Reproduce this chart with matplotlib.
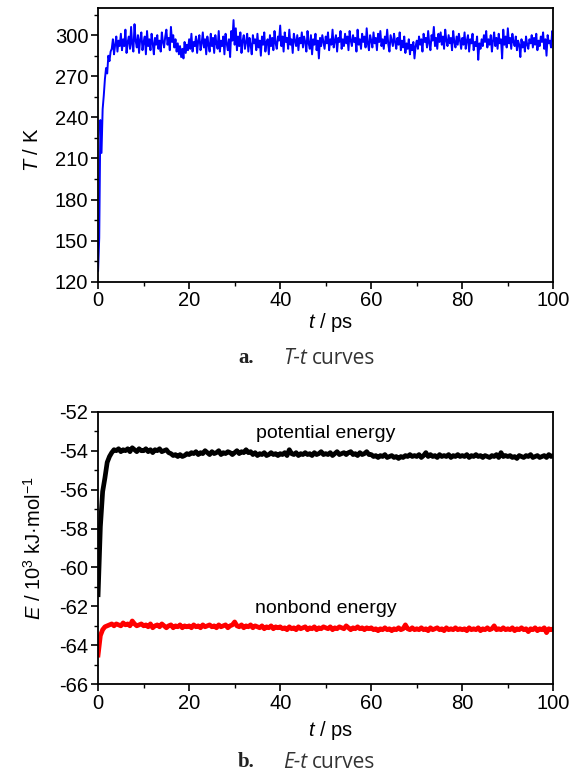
import numpy as np
import matplotlib
matplotlib.use("Agg")
import matplotlib.pyplot as plt
from matplotlib.ticker import MultipleLocator

plt.rcParams["font.family"] = ["Liberation Sans", "DejaVu Sans"]
plt.rcParams["mathtext.fontset"] = "custom"
plt.rcParams["mathtext.rm"] = "Liberation Sans"
plt.rcParams["mathtext.it"] = "Liberation Sans:italic"
plt.rcParams["axes.unicode_minus"] = False

# temperature (K), read every 0.25 ps
temp_step = 0.25
temp_k = [
    128, 152, 238, 214, 246, 256, 268, 276, 272, 285, 281, 288, 290, 297, 286, 293, 299, 288, 296, 292,
    301, 289, 297, 292, 304, 287, 295, 299, 290, 306, 293, 288, 308, 296, 291, 300, 287, 297, 302, 289,
    295, 299, 286, 303, 292, 297, 289, 301, 294, 286, 298, 293, 300, 290, 296, 288, 302, 295, 291, 299,
    304, 293, 298, 289, 306, 295, 300, 291, 297, 288, 294, 286, 292, 284, 290, 283, 295, 287, 293, 289,
    297, 290, 301, 288, 295, 292, 299, 287, 296, 300, 289, 294, 302, 291, 297, 286, 299, 293, 288, 301,
    292, 298, 287, 300, 294, 290, 303, 288, 296, 292, 299, 286, 301, 294, 289, 297, 284, 303, 296, 311,
    293, 305, 289, 299, 292, 302, 287, 296, 300, 290, 295, 301, 288, 298, 293, 286, 300, 294, 297, 289,
    301, 291, 296, 285, 299, 293, 302, 288, 295, 297, 286, 300, 292, 298, 289, 303, 294, 290, 299, 296,
    307, 292, 299, 288, 302, 295, 298, 290, 304, 293, 297, 287, 301, 296, 292, 300, 289, 298, 294, 302,
    291, 299, 295, 288, 303, 294, 290, 300, 286, 297, 293, 301, 289, 296, 283, 298, 292, 300, 295, 290,
    299, 294, 302, 289, 297, 293, 304, 291, 296, 300, 288, 298, 295, 303, 290, 297, 292, 301, 294, 299,
    289, 303, 296, 292, 300, 295, 298, 288, 304, 293, 297, 290, 301, 295, 299, 291, 305, 294, 289, 300,
    296, 291, 302, 294, 298, 289, 301, 295, 303, 292, 297, 290, 299, 294, 304, 293, 288, 300, 296, 292,
    301, 295, 290, 298, 293, 302, 289, 296, 291, 299, 287, 294, 290, 297, 286, 293, 289, 295, 283, 292,
    296, 290, 299, 293, 297, 288, 301, 295, 298, 291, 303, 294, 289, 300, 296, 306, 292, 298, 290, 301,
    295, 302, 293, 299, 290, 304, 296, 292, 300, 294, 298, 289, 303, 295, 291, 299, 293, 301, 296, 290,
    298, 293, 302, 290, 296, 300, 288, 297, 294, 301, 289, 295, 292, 299, 282, 294, 290, 297, 292, 300,
    295, 303, 291, 297, 293, 300, 288, 296, 302, 292, 298, 290, 301, 294, 297, 283, 304, 293, 299, 291,
    305, 294, 298, 290, 301, 295, 292, 299, 289, 296, 293, 284, 297, 291, 295, 288, 299, 293, 290, 297,
    294, 300, 291, 298, 293, 301, 289, 296, 292, 299, 295, 302, 290, 297, 285, 300, 294, 296, 291, 303,
    296,
]

# energies (10^3 kJ/mol), read every 0.5 ps
energy_step = 0.5
potential = [
    -61.4, -57.9, -56.1, -55.4, -54.6, -54.3, -54.1, -53.95, -54.0, -53.9, -54.05, -53.95, -54.0, -53.9, -54.05, -53.85, -53.95, -54.05, -53.9, -54.0,
    -54.0, -53.9, -54.05, -53.95, -54.1, -53.95, -54.0, -53.9, -54.05, -54.0, -53.95, -54.1, -54.15, -54.25, -54.2, -54.3, -54.2, -54.3, -54.25, -54.15,
    -54.2, -54.1, -54.15, -54.05, -54.2, -54.1, -54.15, -54.0, -54.1, -54.2, -54.05, -54.15, -54.1, -54.0, -54.2, -54.1, -54.15, -54.05, -54.1, -54.2,
    -54.1, -54.0, -54.15, -54.05, -54.1, -53.95, -54.1, -54.05, -54.2, -54.1, -54.25, -54.15, -54.2, -54.1, -54.25, -54.2, -54.1, -54.2, -54.15, -54.25,
    -54.15, -54.2, -54.1, -54.25, -53.95, -54.15, -54.2, -54.1, -54.25, -54.15, -54.2, -54.1, -54.2, -54.15, -54.25, -54.1, -54.2, -54.15, -54.05, -54.2,
    -54.15, -54.2, -54.1, -54.25, -54.15, -54.05, -54.2, -54.15, -54.1, -54.2, -54.1, -54.05, -54.2, -54.15, -54.25, -54.1, -54.2, -54.15, -54.05, -54.2,
    -54.2, -54.3, -54.25, -54.35, -54.25, -54.3, -54.2, -54.35, -54.3, -54.25, -54.35, -54.3, -54.4, -54.3, -54.35, -54.25, -54.3, -54.2, -54.3, -54.25,
    -54.3, -54.2, -54.35, -54.25, -54.1, -54.3, -54.2, -54.3, -54.25, -54.35, -54.2, -54.3, -54.25, -54.3, -54.2, -54.35, -54.25, -54.3, -54.2, -54.3,
    -54.25, -54.3, -54.2, -54.35, -54.25, -54.3, -54.2, -54.3, -54.25, -54.35, -54.25, -54.3, -54.35, -54.25, -54.3, -54.2, -54.35, -54.1, -54.3, -54.25,
    -54.3, -54.25, -54.35, -54.3, -54.4, -54.25, -54.3, -54.35, -54.25, -54.3, -54.2, -54.35, -54.3, -54.25, -54.35, -54.3, -54.25, -54.35, -54.2, -54.3,
    -54.25,
]
nonbond = [
    -64.5, -63.5, -63.2, -63.05, -63.0, -62.95, -62.9, -63.0, -62.9, -62.95, -63.0, -62.85, -62.95, -62.9, -63.0, -62.75, -62.9, -63.0, -62.95, -62.9,
    -63.0, -62.95, -63.05, -62.9, -63.1, -63.0, -62.95, -63.05, -62.9, -63.0, -63.1, -63.0, -62.95, -63.1, -63.0, -63.05, -62.95, -63.1, -63.0, -63.05,
    -63.0, -63.1, -62.95, -63.05, -63.0, -63.1, -62.95, -63.05, -63.0, -62.95, -63.05, -63.0, -63.1, -62.95, -63.05, -63.0, -62.95, -63.1, -63.0, -62.95,
    -62.8, -63.0, -63.05, -62.95, -63.1, -63.0, -63.05, -62.95, -63.1, -63.0, -63.05, -63.1, -63.0, -63.15, -63.05, -63.1, -63.0, -63.15, -63.05, -63.1,
    -63.05, -63.15, -63.1, -63.2, -63.05, -63.15, -63.1, -63.2, -63.05, -63.15, -63.1, -63.05, -63.2, -63.1, -63.15, -63.05, -63.2, -63.1, -63.15, -63.05,
    -63.1, -63.15, -63.05, -63.2, -63.1, -63.15, -63.05, -63.1, -63.15, -63.0, -63.1, -63.2, -63.1, -63.15, -63.05, -63.15, -63.1, -63.2, -63.1, -63.15,
    -63.1, -63.2, -63.15, -63.25, -63.15, -63.2, -63.1, -63.2, -63.15, -63.25, -63.15, -63.2, -63.1, -63.2, -63.15, -62.95, -63.15, -63.2, -63.1, -63.2,
    -63.15, -63.2, -63.1, -63.2, -63.15, -63.25, -63.1, -63.2, -63.15, -63.1, -63.2, -63.15, -63.25, -63.1, -63.2, -63.15, -63.2, -63.1, -63.2, -63.15,
    -63.2, -63.15, -63.25, -63.1, -63.2, -63.15, -63.2, -63.1, -63.25, -63.15, -63.2, -63.1, -63.2, -63.15, -63.0, -63.2, -63.15, -63.2, -63.1, -63.2,
    -63.15, -63.2, -63.1, -63.25, -63.15, -63.2, -63.1, -63.2, -63.15, -63.3, -63.15, -63.2, -63.1, -63.25, -63.15, -63.2, -63.1, -63.35, -63.15, -63.2,
    -63.15,
]

t_temp = np.arange(len(temp_k)) * temp_step
t_energy = np.arange(len(potential)) * energy_step

fig = plt.figure(figsize=(5.77, 7.74), dpi=100)
ax1 = fig.add_axes([0.170, 0.636, 0.789, 0.354])
ax2 = fig.add_axes([0.170, 0.116, 0.789, 0.352])

TICK_FS = 14.5


def style_axes(ax):
    for sp in ax.spines.values():
        sp.set_linewidth(1.3)
    ax.tick_params(which="major", direction="out", length=5, width=1.2,
                   labelsize=TICK_FS, pad=2)
    ax.tick_params(which="minor", direction="out", length=3, width=1.0)
    ax.set_xlim(0, 100)
    ax.xaxis.set_major_locator(MultipleLocator(20))
    ax.xaxis.set_minor_locator(MultipleLocator(10))


ax1.plot(t_temp, temp_k, color="#0000ff", lw=1.4)
style_axes(ax1)
ax1.set_ylim(120, 320)
ax1.yaxis.set_major_locator(MultipleLocator(30))
ax1.yaxis.set_minor_locator(MultipleLocator(15))

ax2.plot(t_energy, potential, color="black", lw=3.4)
ax2.plot(t_energy, nonbond, color="#ff0000", lw=3.4)
style_axes(ax2)
ax2.set_ylim(-66, -52)
ax2.yaxis.set_major_locator(MultipleLocator(2))
ax2.yaxis.set_minor_locator(MultipleLocator(1))
ax2.text(50, -53.1, "potential energy", ha="center", va="center", fontsize=14)
ax2.text(50, -62.1, "nonbond energy", ha="center", va="center", fontsize=14)

# axis labels
fig.text(330 / 577, 1 - 322 / 774, "$\\mathit{t}$ / ps", ha="center", va="center", fontsize=TICK_FS)
fig.text(330 / 577, 1 - 730 / 774, "$\\mathit{t}$ / ps", ha="center", va="center", fontsize=TICK_FS)
fig.text(32 / 577, 1 - 150 / 774, "$\\mathit{T}$ / K", ha="center", va="center",
         rotation=90, fontsize=TICK_FS)
fig.text(34 / 577, 1 - 548 / 774, "$\\mathit{E}$ / 10$^{3}$ kJ·mol$^{-1}$", ha="center",
         va="center", rotation=90, fontsize=TICK_FS)

# captions
for y, tag, sym in [(358, "a.", "T-t"), (762, "b.", "E-t")]:
    yf = 1 - y / 774
    fig.text(238 / 577, yf, tag, ha="left", va="center",
             fontsize=15, fontweight="bold", family="Liberation Serif", color="#222222")
    fig.text(283 / 577, yf, sym, ha="left", va="center", fontsize=15,
             style="italic", family="Open Sans", color="#333333")
    fig.text(312 / 577, yf, "curves", ha="left", va="center", fontsize=15,
             family="Open Sans", color="#333333")

fig.savefig("out.png", dpi=100)
plt.close(fig)
